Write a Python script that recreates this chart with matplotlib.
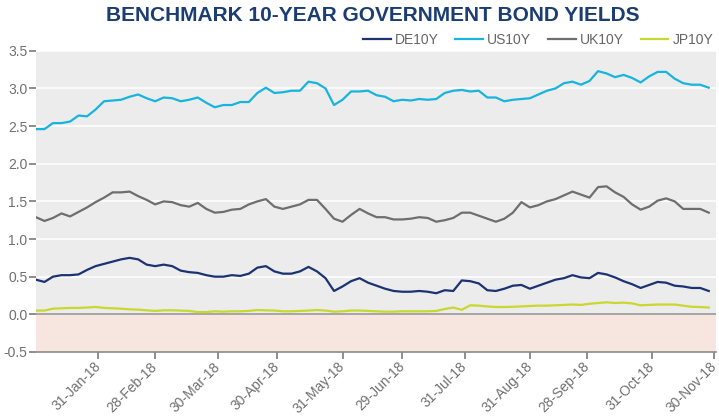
import numpy as np
import pandas as pd
import matplotlib
matplotlib.use("Agg")
import matplotlib.pyplot as plt

plt.rcParams['font.family'] = ['Liberation Sans', 'DejaVu Sans']

# fechas: cada 3 dias habiles, 1-ene-18 .. 30-nov-18
dates = pd.bdate_range('2018-01-01', '2018-11-30')[::3]

de10y = [0.46, 0.43, 0.50, 0.52, 0.52, 0.53, 0.59, 0.64, 0.67, 0.70, 0.73, 0.75, 0.73, 0.66, 0.64, 0.66,
         0.64, 0.58, 0.56, 0.55, 0.52, 0.50, 0.50, 0.52, 0.51, 0.54, 0.62, 0.64, 0.57, 0.54, 0.54, 0.57,
         0.63, 0.57, 0.48, 0.31, 0.37, 0.44, 0.48, 0.42, 0.38, 0.34, 0.31, 0.30, 0.30, 0.31, 0.30, 0.28,
         0.32, 0.31, 0.45, 0.44, 0.41, 0.32, 0.31, 0.34, 0.38, 0.39, 0.34, 0.38, 0.42, 0.46, 0.48, 0.52,
         0.49, 0.48, 0.55, 0.53, 0.49, 0.44, 0.40, 0.35, 0.39, 0.43, 0.42, 0.38, 0.37, 0.35, 0.35, 0.31]
us10y = [2.46, 2.46, 2.54, 2.54, 2.56, 2.64, 2.63, 2.72, 2.83, 2.84, 2.85, 2.89, 2.92, 2.87, 2.83, 2.88,
         2.87, 2.83, 2.85, 2.88, 2.81, 2.75, 2.78, 2.78, 2.82, 2.82, 2.94, 3.01, 2.94, 2.95, 2.97, 2.97,
         3.09, 3.07, 3.00, 2.78, 2.85, 2.96, 2.96, 2.97, 2.91, 2.89, 2.83, 2.85, 2.84, 2.86, 2.85, 2.86,
         2.94, 2.97, 2.98, 2.96, 2.97, 2.88, 2.88, 2.83, 2.85, 2.86, 2.87, 2.92, 2.97, 3.00, 3.07, 3.09,
         3.05, 3.10, 3.23, 3.20, 3.15, 3.18, 3.14, 3.08, 3.16, 3.22, 3.22, 3.13, 3.07, 3.05, 3.05, 3.01]
uk10y = [1.29, 1.24, 1.28, 1.34, 1.30, 1.36, 1.42, 1.49, 1.55, 1.62, 1.62, 1.63, 1.57, 1.52, 1.46, 1.50,
         1.49, 1.45, 1.43, 1.48, 1.40, 1.35, 1.36, 1.39, 1.40, 1.46, 1.50, 1.53, 1.43, 1.40, 1.43, 1.46,
         1.52, 1.52, 1.40, 1.27, 1.23, 1.32, 1.40, 1.34, 1.29, 1.29, 1.26, 1.26, 1.27, 1.29, 1.28, 1.23,
         1.25, 1.28, 1.35, 1.35, 1.31, 1.27, 1.23, 1.27, 1.35, 1.49, 1.42, 1.45, 1.50, 1.53, 1.58, 1.63,
         1.59, 1.55, 1.69, 1.70, 1.62, 1.56, 1.46, 1.39, 1.43, 1.51, 1.54, 1.50, 1.40, 1.40, 1.40, 1.35]
jp10y = [0.05, 0.05, 0.075, 0.08, 0.085, 0.085, 0.09, 0.097, 0.085, 0.08, 0.075, 0.066, 0.062, 0.053, 0.045, 0.053,
         0.053, 0.05, 0.045, 0.03, 0.03, 0.04, 0.035, 0.04, 0.04, 0.045, 0.057, 0.053, 0.05, 0.04, 0.04, 0.045,
         0.05, 0.057, 0.05, 0.035, 0.04, 0.05, 0.05, 0.045, 0.04, 0.035, 0.035, 0.04, 0.04, 0.04, 0.04, 0.045,
         0.07, 0.09, 0.06, 0.12, 0.115, 0.105, 0.097, 0.097, 0.10, 0.105, 0.11, 0.115, 0.115, 0.12, 0.125, 0.13,
         0.125, 0.14, 0.15, 0.16, 0.15, 0.155, 0.145, 0.12, 0.125, 0.13, 0.13, 0.13, 0.115, 0.10, 0.097, 0.09]

tick_dates = ['2018-01-31', '2018-02-28', '2018-03-30', '2018-04-30', '2018-05-31', '2018-06-29',
              '2018-07-31', '2018-08-31', '2018-09-28', '2018-10-31', '2018-11-30']
tick_labels = ['31-Jan-18', '28-Feb-18', '30-Mar-18', '30-Apr-18', '31-May-18', '29-Jun-18',
               '31-Jul-18', '31-Aug-18', '28-Sep-18', '31-Oct-18', '30-Nov-18']

# eje de dias habiles (categorias)
start = np.datetime64('2018-01-01')
x = np.busday_count(start, dates.values.astype('datetime64[D]'))
xt = np.busday_count(start, np.array(tick_dates, dtype='datetime64[D]'))

fig = plt.figure(figsize=(7.19, 4.2), dpi=100)
ax = fig.add_axes([0.050, 0.162, 0.946, 0.717])
ax.set_facecolor('#ececec')
ax.set_xlim(0, 239.6)
ax.set_ylim(-0.5, 3.5)
ax.axhspan(-0.5, 0, color='#f6e6df', zorder=0)
for yv in np.arange(0.5, 3.6, 0.5):
    ax.axhline(yv, color='white', lw=1.1, zorder=1)
ax.axhline(0, color='#a0a0a0', lw=1.3, zorder=2)

ax.plot(x, de10y, color='#1c3372', lw=1.6, label='DE10Y', zorder=3)
ax.plot(x, us10y, color='#16b4df', lw=1.6, label='US10Y', zorder=3)
ax.plot(x, uk10y, color='#6e6e6e', lw=1.6, label='UK10Y', zorder=3)
ax.plot(x, jp10y, color='#c8d82e', lw=1.6, label='JP10Y', zorder=3)

for s in ['top', 'right', 'left']:
    ax.spines[s].set_visible(False)
ax.spines['bottom'].set_color('#8c8c8c')
ax.spines['bottom'].set_linewidth(1.2)

ax.set_yticks(np.arange(-0.5, 3.6, 0.5))
ax.set_yticklabels([f'{v:.1f}' for v in np.arange(-0.5, 3.6, 0.5)])
ax.set_xticks(xt)
ax.set_xticklabels(tick_labels, rotation=45, ha='right', va='center', rotation_mode='anchor')
ax.tick_params(axis='both', colors='#7a7a7a', labelcolor='#707070', labelsize=10, length=5, width=1.2)
ax.tick_params(axis='y', pad=1)
ax.tick_params(axis='x', pad=4)

ax.legend(loc='lower right', bbox_to_anchor=(1.004, 0.995), ncol=4, frameon=False, fontsize=10,
          handlelength=2.0, handletextpad=0.3, columnspacing=1.2, labelcolor='#666666', borderaxespad=0)

fig.text(0.519, 0.985, 'BENCHMARK 10-YEAR GOVERNMENT BOND YIELDS', ha='center', va='top',
         fontsize=15, fontweight='bold', color='#1b3d73')

fig.savefig('out.png', dpi=100)
